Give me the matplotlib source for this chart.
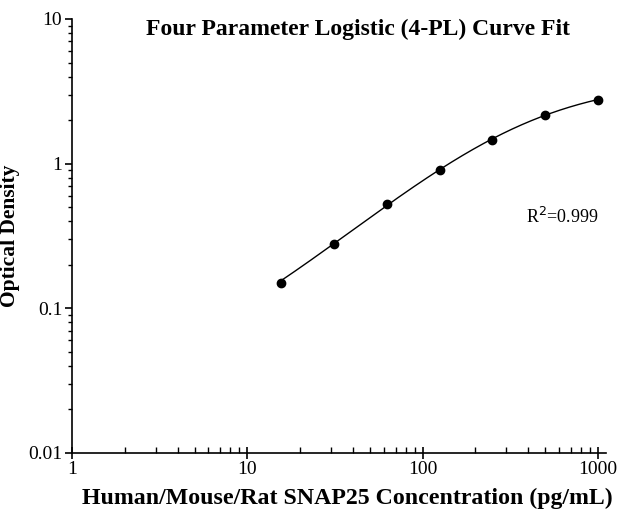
import numpy as np
import matplotlib
matplotlib.use("Agg")
import matplotlib.pyplot as plt
from matplotlib.ticker import LogLocator, FixedLocator, FixedFormatter, NullFormatter

conc = [15.6, 31.25, 62.5, 125, 250, 500, 1000]
od = [0.150, 0.279, 0.529, 0.909, 1.466, 2.18, 2.77]
xticks = [1, 10, 100, 1000]
xtick_labels = ["1", "10", "100", "1000"]
yticks = [0.01, 0.1, 1, 10]
ytick_labels = ["0.01", "0.1", "1", "10"]
title = "Four Parameter Logistic (4-PL) Curve Fit"
xlabel = "Human/Mouse/Rat SNAP25 Concentration (pg/mL)"
ylabel = "Optical Density"
r2_text = "R$^2$=0.999"

x = np.array(conc, float)
y = np.array(od, float)

def f4pl(p, xx):
    A, B, C, D = p
    return D + (A - D) / (1 + (xx / C) ** B)

# Levenberg-Marquardt fit of 4PL to the data
p = np.array([0.0, 1.0, 300.0, 4.0])
lam = 1e-2
def resid(p):
    return f4pl(p, x) - y
for _ in range(500):
    r = resid(p)
    J = np.zeros((len(x), 4))
    for k in range(4):
        dp = np.zeros(4); dp[k] = 1e-6 * max(1.0, abs(p[k]))
        J[:, k] = (resid(p + dp) - r) / dp[k]
    H = J.T @ J
    g = J.T @ r
    step = np.linalg.solve(H + lam * np.diag(np.diag(H) + 1e-12), -g)
    pn = p + step
    if pn[2] > 0 and np.sum(resid(pn) ** 2) < np.sum(r ** 2):
        p = pn; lam *= 0.5
    else:
        lam *= 3
xs = np.logspace(np.log10(x.min()), np.log10(x.max()), 300)
ys = f4pl(p, xs)

plt.rcParams['font.family'] = ['Liberation Serif', 'DejaVu Serif']
fig = plt.figure(figsize=(6.18, 5.19), dpi=100)
ax = fig.add_axes([0.1165, 0.1272, 0.8640, 0.8362])
ax.set_xscale('log'); ax.set_yscale('log')
ax.plot(xs, ys, color='black', lw=1.0)
ax.plot(x, y, 'o', color='black', ms=6)
ax.set_xlim(1, 1110)
ax.set_ylim(0.01, 10)
for s in ['top', 'right']:
    ax.spines[s].set_visible(False)
for s in ['left', 'bottom']:
    ax.spines[s].set_linewidth(1.2)
ax.xaxis.set_major_locator(FixedLocator(xticks))
ax.xaxis.set_major_formatter(FixedFormatter(xtick_labels))
ax.yaxis.set_major_locator(FixedLocator(yticks))
ax.yaxis.set_major_formatter(FixedFormatter(ytick_labels))
ax.xaxis.set_minor_locator(LogLocator(base=10, subs=np.arange(2, 10)))
ax.yaxis.set_minor_locator(LogLocator(base=10, subs=np.arange(2, 10)))
ax.xaxis.set_minor_formatter(NullFormatter())
ax.yaxis.set_minor_formatter(NullFormatter())
ax.tick_params(axis='x', which='major', direction='inout', length=8, width=1.2, labelsize=14, pad=2)
ax.tick_params(axis='x', which='minor', direction='in', length=4, width=1.0)
ax.tick_params(axis='y', which='major', direction='out', length=5, width=1.2, labelsize=14, pad=2)
ax.tick_params(axis='y', which='minor', direction='out', length=3, width=1.0)
ax.set_xlabel(xlabel, fontsize=17.2, fontweight='bold', labelpad=7, x=0.516)
ax.set_ylabel(ylabel, fontsize=15.5, fontweight='bold', labelpad=6)
ax.text(0.535, 1.0, title, transform=ax.transAxes, ha='center', va='top',
        fontsize=17, fontweight='bold')
ax.text(0.850, 0.545, r2_text, transform=ax.transAxes, ha='left', va='center', fontsize=13)
fig.savefig('out.png', dpi=100)
